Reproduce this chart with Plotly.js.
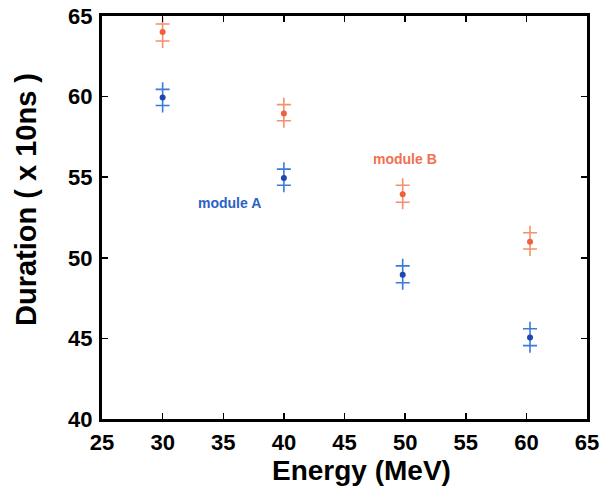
<!DOCTYPE html>
<html>
<head>
<meta charset="utf-8">
<script src="https://cdn.plot.ly/plotly-3.0.1.min.js"></script>
<style>
html,body{margin:0;padding:0;background:#fff;}
#chart{width:603px;height:491px;}
</style>
</head>
<body>
<div id="chart"></div>
<script>
// Energies (MeV) as plotted
const energyA = [30, 40, 49.8, 60.3];
const energyB = [30, 40, 49.8, 60.3];
// Module A duration (x 10ns): mean, upper and lower marks
const durationA = [59.95, 54.95, 48.95, 45.05];
const upperA = [60.45, 55.5, 49.5, 45.6];
const lowerA = [59.45, 54.5, 48.45, 44.55];
// Module B duration (x 10ns): mean, upper and lower marks
const durationB = [64.0, 58.95, 53.95, 51.0];
const upperB = [64.5, 59.5, 54.5, 51.55];
const lowerB = [63.45, 58.5, 53.45, 50.55];
const xTicks = [25, 30, 35, 40, 45, 50, 55, 60, 65];
const yTicks = [40, 45, 50, 55, 60, 65];

const blueDot = '#1c48b0', bluePlus = '#3b7ad8';
const orangeDot = '#f0603c', orangePlus = '#f5906c';
const font = 'Liberation Sans, Arial, sans-serif';

function plus(x, y, c) {
  return {x: x, y: y, type: 'scatter', mode: 'markers', cliponaxis: false, hoverinfo: 'skip',
    marker: {symbol: 'cross-thin-open', size: 10, color: c, line: {color: c, width: 1.6}}};
}
function dot(x, y, c) {
  return {x: x, y: y, type: 'scatter', mode: 'markers', cliponaxis: false,
    marker: {symbol: 'circle', size: 6, color: c}};
}

const data = [
  plus(energyB, upperB, orangePlus), plus(energyB, lowerB, orangePlus), dot(energyB, durationB, orangeDot),
  plus(energyA, upperA, bluePlus), plus(energyA, lowerA, bluePlus), dot(energyA, durationA, blueDot)
];

const axisCommon = {
  showline: true, linecolor: '#000', linewidth: 3, mirror: 'allticks',
  ticks: 'inside', ticklen: 6, tickwidth: 1.5, tickcolor: '#000',
  showgrid: false, zeroline: false,
  tickfont: {family: font, size: 22, color: '#000', weight: 'bold'}
};

const layout = {
  width: 603, height: 491,
  margin: {l: 102, r: 16, t: 16, b: 72},
  paper_bgcolor: '#fff', plot_bgcolor: '#fff',
  showlegend: false,
  xaxis: Object.assign({}, axisCommon, {range: [25, 65], tickvals: xTicks, ticktext: xTicks.map(String), ticklabelstandoff: 2}),
  yaxis: Object.assign({}, axisCommon, {range: [40, 65], tickvals: yTicks, ticktext: yTicks.map(String), ticklabelstandoff: 2}),
  annotations: [
    {text: 'Energy (MeV)', xref: 'paper', yref: 'paper', x: (361 - 102) / 485, y: -(471 - 419) / 403,
     xanchor: 'center', yanchor: 'middle', showarrow: false,
     font: {family: font, size: 28, color: '#000', weight: 'bold'}},
    {text: 'Duration ( x 10ns )', xref: 'paper', yref: 'paper', x: -(102 - 26) / 485, y: (419 - 200) / 403,
     xanchor: 'center', yanchor: 'middle', textangle: -90, showarrow: false,
     font: {family: font, size: 29, color: '#000', weight: 'bold'}},
    {text: 'module A', xref: 'x', yref: 'y', x: 35.5, y: 53.4, showarrow: false,
     xanchor: 'center', yanchor: 'middle', font: {family: font, size: 14, color: '#2a62c8', weight: 'bold'}},
    {text: 'module B', xref: 'x', yref: 'y', x: 50.0, y: 56.1, showarrow: false,
     xanchor: 'center', yanchor: 'middle', font: {family: font, size: 14, color: '#f07050', weight: 'bold'}}
  ]
};

Plotly.newPlot('chart', data, layout, {staticPlot: true, displayModeBar: false});
</script>
</body>
</html>
